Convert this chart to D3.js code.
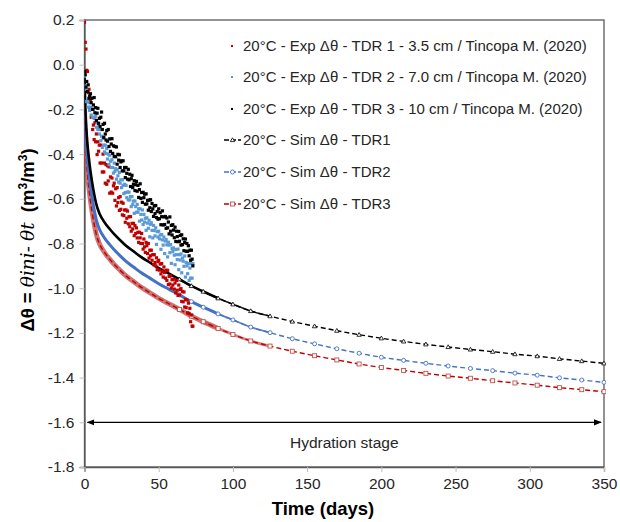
<!DOCTYPE html>
<html><head><meta charset="utf-8">
<script src="https://cdn.jsdelivr.net/npm/d3@7"></script>
<style>body{margin:0;background:#fff}svg{display:block}</style>
</head><body><svg id="c" width="620" height="522"></svg>
<script>
// ---------- DATA ----------
const xTicks = [0, 50, 100, 150, 200, 250, 300, 350];
const yTicks = [0.2, 0.0, -0.2, -0.4, -0.6, -0.8, -1.0, -1.2, -1.4, -1.6, -1.8];

// experimental readings, every half day from day 0 to day 73
const expDays = d3.range(0, 73.5, 0.5);
const expTDR1 = [
 0.19,0.10,0.07,-0.025,-0.03,-0.125,-0.11,-0.20,-0.16,-0.235,
 -0.20,-0.29,-0.27,-0.335,-0.26,-0.345,-0.31,-0.402,-0.345,-0.387,
 -0.36,-0.44,-0.36,-0.44,-0.48,-0.40,-0.48,-0.44,-0.53,-0.447,
 -0.535,-0.452,-0.52,-0.457,-0.575,-0.502,-0.57,-0.507,-0.575,-0.542,
 -0.53,-0.607,-0.555,-0.632,-0.55,-0.617,-0.595,-0.652,-0.59,-0.647,
 -0.615,-0.672,-0.62,-0.675,-0.65,-0.705,-0.65,-0.687,-0.655,-0.712,
 -0.68,-0.725,-0.68,-0.745,-0.71,-0.735,-0.71,-0.765,-0.72,-0.755,
 -0.73,-0.775,-0.75,-0.795,-0.75,-0.775,-0.80,-0.755,-0.80,-0.825,
 -0.78,-0.815,-0.84,-0.795,-0.81,-0.845,-0.80,-0.865,-0.83,-0.855,
 -0.83,-0.875,-0.85,-0.895,-0.85,-0.885,-0.90,-0.864,-0.917,-0.881,
 -0.875,-0.919,-0.892,-0.936,-0.89,-0.925,-0.95,-0.905,-0.93,-0.955,
 -0.92,-0.965,-0.92,-0.984,-0.947,-0.981,-0.945,-0.999,-0.962,-0.986,
 -0.96,-1.004,-0.977,-1.021,-0.965,-1.009,-1.032,-0.986,-1.03,-1.006,
 -1.002,-1.059,-1.015,-1.061,-1.017,-1.084,-1.05,-1.087,-1.053,-1.11,
 -1.067,-1.113,-1.09,-1.15,-1.12,-1.17,-1.17];
const expTDR2 = [
 -0.05,-0.095,-0.11,-0.165,-0.16,-0.19,-0.17,-0.205,-0.19,-0.225,
 -0.20,-0.235,-0.20,-0.24,-0.24,-0.23,-0.28,-0.26,-0.29,-0.27,
 -0.31,-0.29,-0.34,-0.32,-0.37,-0.33,-0.36,-0.39,-0.36,-0.397,
 -0.375,-0.422,-0.40,-0.447,-0.405,-0.432,-0.46,-0.425,-0.46,-0.485,
 -0.44,-0.477,-0.465,-0.512,-0.47,-0.497,-0.525,-0.482,-0.53,-0.515,
 -0.55,-0.515,-0.54,-0.577,-0.535,-0.572,-0.54,-0.595,-0.57,-0.605,
 -0.57,-0.605,-0.59,-0.635,-0.59,-0.625,-0.61,-0.665,-0.61,-0.635,
 -0.66,-0.625,-0.66,-0.645,-0.70,-0.645,-0.67,-0.695,-0.65,-0.715,
 -0.67,-0.704,-0.687,-0.741,-0.685,-0.709,-0.732,-0.696,-0.77,-0.714,
 -0.707,-0.741,-0.775,-0.719,-0.742,-0.766,-0.73,-0.804,-0.747,-0.771,
 -0.745,-0.779,-0.762,-0.826,-0.76,-0.784,-0.807,-0.771,-0.845,-0.789,
 -0.782,-0.806,-0.86,-0.794,-0.807,-0.841,-0.805,-0.889,-0.822,-0.836,
 -0.82,-0.852,-0.895,-0.827,-0.85,-0.872,-0.825,-0.917,-0.85,-0.874,
 -0.847,-0.931,-0.865,-0.879,-0.902,-0.856,-0.95,-0.885,-0.90,-0.935,
 -0.89,-0.965,-0.91,-0.955,-0.89,-0.955,-0.89];
const expTDR3 = [
 -0.03,-0.045,-0.10,-0.075,-0.12,-0.09,-0.15,-0.14,-0.13,-0.17,
 -0.15,-0.20,-0.18,-0.147,-0.215,-0.192,-0.25,-0.217,-0.195,-0.262,
 -0.24,-0.277,-0.235,-0.212,-0.29,-0.267,-0.325,-0.262,-0.31,-0.337,
 -0.295,-0.342,-0.29,-0.366,-0.332,-0.388,-0.355,-0.331,-0.397,-0.363,
 -0.41,-0.366,-0.412,-0.368,-0.445,-0.401,-0.427,-0.403,-0.46,-0.435,
 -0.43,-0.475,-0.43,-0.475,-0.46,-0.505,-0.46,-0.486,-0.512,-0.468,
 -0.515,-0.49,-0.545,-0.51,-0.495,-0.55,-0.535,-0.519,-0.563,-0.537,
 -0.522,-0.566,-0.54,-0.594,-0.559,-0.533,-0.598,-0.572,-0.616,-0.571,
 -0.595,-0.579,-0.624,-0.578,-0.623,-0.607,-0.651,-0.606,-0.64,-0.604,
 -0.657,-0.621,-0.645,-0.679,-0.632,-0.666,-0.63,-0.684,-0.657,-0.691,
 -0.645,-0.689,-0.662,-0.716,-0.68,-0.654,-0.717,-0.681,-0.715,-0.679,
 -0.732,-0.686,-0.73,-0.704,-0.757,-0.681,-0.745,-0.719,-0.762,-0.716,
 -0.74,-0.774,-0.727,-0.791,-0.745,-0.769,-0.792,-0.746,-0.79,-0.764,
 -0.807,-0.761,-0.805,-0.779,-0.832,-0.796,-0.78,-0.835,-0.80,-0.835,
 -0.81,-0.855,-0.83,-0.875,-0.83,-0.87,-0.90];

// simulated curves
const simDays = [0,0.5,1,1.5,2,3,4,5,6,7,8,10,12,14,17,20,24,28,33,38,44,50,57,64,72,80,90,100,
 112,125,140,155,170,185,200,215,230,245,260,275,290,305,320,335,350];
const simTDR1 = [-0.06,-0.19,-0.26,-0.31,-0.355,-0.42,-0.475,-0.52,-0.56,-0.595,-0.625,-0.665,-0.69,-0.71,
 -0.735,-0.758,-0.785,-0.81,-0.835,-0.86,-0.885,-0.91,-0.935,-0.96,-0.99,-1.015,-1.045,-1.072,
 -1.102,-1.125,-1.149,-1.17,-1.19,-1.208,-1.224,-1.238,-1.251,-1.263,-1.274,-1.284,-1.295,-1.304,-1.316,-1.326,-1.336];
const simTDR2 = [-0.12,-0.26,-0.33,-0.38,-0.425,-0.49,-0.545,-0.59,-0.63,-0.665,-0.695,-0.735,-0.76,-0.78,
 -0.805,-0.828,-0.855,-0.88,-0.905,-0.93,-0.955,-0.98,-1.005,-1.03,-1.06,-1.085,-1.115,-1.142,
 -1.174,-1.199,-1.226,-1.249,-1.271,-1.291,-1.309,-1.323,-1.336,-1.348,-1.359,-1.369,-1.38,-1.389,-1.401,-1.411,-1.421];
const simTDR3 = [-0.17,-0.32,-0.395,-0.445,-0.49,-0.555,-0.61,-0.655,-0.695,-0.73,-0.76,-0.80,-0.825,-0.845,
 -0.87,-0.893,-0.92,-0.945,-0.97,-0.995,-1.02,-1.045,-1.07,-1.095,-1.125,-1.15,-1.18,-1.207,
 -1.236,-1.259,-1.282,-1.302,-1.321,-1.339,-1.355,-1.368,-1.381,-1.393,-1.403,-1.414,-1.424,-1.434,-1.445,-1.454,-1.463];

const legendLabels = [
 "20°C - Exp Δθ - TDR 1 - 3.5 cm / Tincopa M. (2020)",
 "20°C - Exp Δθ - TDR 2 - 7.0 cm / Tincopa M. (2020)",
 "20°C - Exp Δθ - TDR 3 - 10 cm / Tincopa M. (2020)",
 "20°C - Sim Δθ - TDR1",
 "20°C - Sim Δθ - TDR2",
 "20°C - Sim Δθ - TDR3"];
const hydrationSpan = [2, 348];
const hydrationLevel = -1.6;
const hydrationLabel = "Hydration stage";

// ---------- DRAW ----------
const FONT = "'Liberation Sans', Arial, sans-serif";
const svg = d3.select("#c");
const x = d3.scaleLinear().domain([0, 350]).range([84.5, 604]);
const y = d3.scaleLinear().domain([-1.8, 0.2]).range([467, 20]);

svg.append("rect").attr("x", x(0)).attr("y", y(0.2))
  .attr("width", x(350) - x(0)).attr("height", y(-1.8) - y(0.2))
  .attr("fill", "none").attr("stroke", "#595959").attr("stroke-width", 1.3);

const gy = svg.append("g").attr("transform", `translate(${x(0)},0)`)
  .call(d3.axisLeft(y).tickValues(yTicks).tickSize(5).tickPadding(5).tickFormat(d => d.toFixed(1)));
const gx = svg.append("g").attr("transform", `translate(0,${y(-1.8)})`)
  .call(d3.axisBottom(x).tickValues(xTicks).tickSize(5).tickPadding(6).tickFormat(d => String(d)));
[gx, gy].forEach(g => {
  g.select(".domain").attr("stroke", "#595959").attr("stroke-width", 1.3);
  g.selectAll(".tick line").attr("stroke", "#bfbfbf");
  g.selectAll(".tick text").attr("fill", "#262626").style("font-family", FONT).style("font-size", "15.5px");
});

svg.append("clipPath").attr("id", "pc").append("rect")
  .attr("x", x(0)).attr("y", y(0.2) - 2).attr("width", x(350) - x(0) + 2).attr("height", y(-1.8) - y(0.2) + 2);
const plot = svg.append("g").attr("clip-path", "url(#pc)");

const sims = [
  {v: simTDR1, line: "#000000", mk: "#000000", band: "#000000", bw: 2.6, shape: "tri"},
  {v: simTDR2, line: "#4472C4", mk: "#4472C4", band: "#4472C4", bw: 3.0, shape: "circ"},
  {v: simTDR3, line: "#C00000", mk: "#C0504D", band: "#C0504D", bw: 4.8, shape: "sq"}
];
const lineGen = d3.line().x(d => x(d[0])).y(d => y(d[1])).curve(d3.curveMonotoneX);
function marker(g, shape, cx, cy, col) {
  if (shape === "sq") g.append("rect").attr("x", cx - 2).attr("y", cy - 2).attr("width", 4).attr("height", 4)
      .attr("fill", "#fff").attr("stroke", col).attr("stroke-width", 0.9);
  else if (shape === "circ") g.append("circle").attr("cx", cx).attr("cy", cy).attr("r", 2)
      .attr("fill", "#fff").attr("stroke", col).attr("stroke-width", 0.9);
  else g.append("path").attr("d", `M${cx},${cy-2.2}L${cx+2.2},${cy+1.6}L${cx-2.2},${cy+1.6}Z`)
      .attr("fill", "#fff").attr("stroke", col).attr("stroke-width", 0.8);
}
[2, 1, 0].forEach(i => {
  const s = sims[i];
  const pts = simDays.map((d, k) => [d, s.v[k]]);
  // dense early part forms a solid band
  plot.append("path").datum(pts.filter(p => p[0] <= 90)).attr("d", lineGen)
    .attr("fill", "none").attr("stroke", s.band).attr("stroke-width", s.bw)
    .attr("stroke-opacity", i === 2 ? 0.8 : 1);
  plot.append("path").datum(pts.filter(p => p[0] >= 80 && p[0] <= 125)).attr("d", lineGen)
    .attr("fill", "none").attr("stroke", s.band).attr("stroke-width", s.bw * 0.6)
    .attr("stroke-opacity", i === 2 ? 0.7 : 0.9);
  plot.append("path").datum(pts).attr("d", lineGen)
    .attr("fill", "none").attr("stroke", s.line).attr("stroke-width", 1.4).attr("stroke-dasharray", "5,3");
  const mg = plot.append("g");
  pts.filter(p => p[0] >= 60).forEach(p => marker(mg, s.shape, x(p[0]), y(p[1]), s.mk));
});

const exps = [
  {v: expTDR1, col: "#C00000"},
  {v: expTDR2, col: "#5B9BD5"},
  {v: expTDR3, col: "#000000"}
];
[0, 1, 2].forEach(i => {
  const e = exps[i];
  plot.append("g").selectAll("rect").data(expDays.map((d, k) => [d, e.v[k]])).join("rect")
    .attr("x", d => x(d[0]) - 1.6).attr("y", d => y(d[1]) - 1.6)
    .attr("width", 3.2).attr("height", 3.2).attr("fill", e.col);
});

const defs = svg.append("defs");
["s", "e"].forEach(k => {
  defs.append("marker").attr("id", "ah" + k).attr("viewBox", "0 0 10 10").attr("refX", 9).attr("refY", 5)
    .attr("markerWidth", 6).attr("markerHeight", 6).attr("orient", "auto-start-reverse")
    .append("path").attr("d", "M0,1L10,5L0,9Z").attr("fill", "#000");
});
svg.append("line").attr("x1", x(hydrationSpan[0])).attr("x2", x(hydrationSpan[1]))
  .attr("y1", y(hydrationLevel)).attr("y2", y(hydrationLevel))
  .attr("stroke", "#000").attr("stroke-width", 1.3)
  .attr("marker-start", "url(#ahs)").attr("marker-end", "url(#ahe)");
svg.append("text").attr("x", x((hydrationSpan[0] + hydrationSpan[1]) / 2)).attr("y", y(hydrationLevel) + 26)
  .attr("text-anchor", "middle").style("font-family", FONT).style("font-size", "15.5px").attr("fill", "#262626")
  .text(hydrationLabel);

const legRows = [46, 77, 109, 140, 172, 204];
const lg = svg.append("g");
legendLabels.forEach((lab, i) => {
  const cy = legRows[i];
  if (i < 3) {
    lg.append("rect").attr("x", 231).attr("y", cy - 1).attr("width", 2).attr("height", 2).attr("fill", exps[i].col);
  } else {
    const s = sims[i - 3];
    lg.append("line").attr("x1", 224).attr("x2", 241).attr("y1", cy).attr("y2", cy)
      .attr("stroke", s.line).attr("stroke-width", 1.4).attr("stroke-dasharray", "5,2");
    marker(lg, s.shape, 232.5, cy, s.mk);
  }
  lg.append("text").attr("x", 243).attr("y", cy + 5).style("font-family", FONT).style("font-size", "15px")
    .attr("fill", "#262626").text(lab);
});

svg.append("text").attr("x", 323).attr("y", 515).attr("text-anchor", "middle")
  .style("font-family", FONT).style("font-size", "18.5px").style("font-weight", "bold").attr("fill", "#000")
  .text("Time (days)");
const yt = svg.append("text").attr("transform", "translate(34,240) rotate(-90)").attr("text-anchor", "middle")
  .style("font-family", FONT).style("font-size", "18.5px").style("font-weight", "bold").attr("fill", "#000");
yt.append("tspan").text("Δθ = ");
yt.append("tspan").style("font-family", "'DejaVu Serif', 'Liberation Serif', serif").style("font-style", "italic")
  .style("font-weight", "normal").text("θini");
yt.append("tspan").style("font-weight", "normal").text("- ");
yt.append("tspan").style("font-family", "'DejaVu Serif', 'Liberation Serif', serif").style("font-style", "italic")
  .style("font-weight", "normal").text("θt");
yt.append("tspan").text("\u00a0\u00a0(m");
yt.append("tspan").attr("dy", -7).style("font-size", "12px").text("3");
yt.append("tspan").attr("dy", 7).text("/m");
yt.append("tspan").attr("dy", -7).style("font-size", "12px").text("3");
yt.append("tspan").attr("dy", 7).text(")");
</script></body></html>
